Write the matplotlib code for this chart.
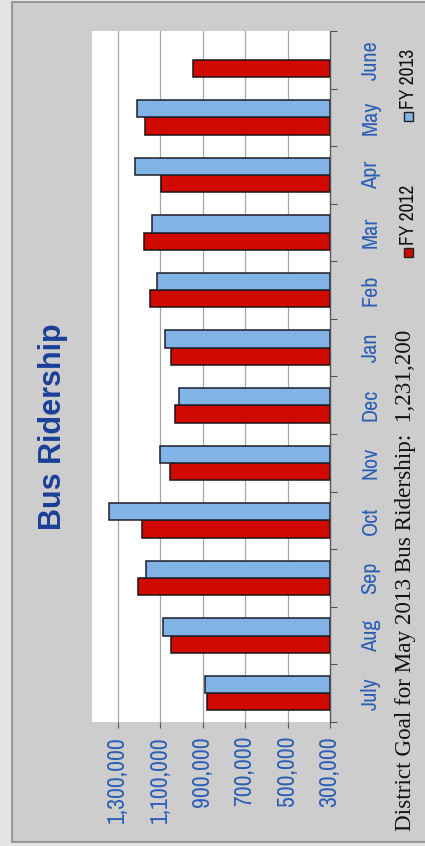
import numpy as np
import matplotlib
matplotlib.use("Agg")
import matplotlib.pyplot as plt
from matplotlib.patches import Rectangle
from matplotlib import font_manager

# data
months = ['July', 'Aug', 'Sep', 'Oct', 'Nov', 'Dec', 'Jan', 'Feb', 'Mar', 'Apr', 'May', 'June']
fy2012 = [880000, 1051000, 1206000, 1188000, 1056000, 1031000,
          1050000, 1149000, 1179000, 1099000, 1173000, 946000]
fy2013 = [891000, 1086000, 1169000, 1342000, 1100000, 1012000,
          1078000, 1115000, 1141000, 1217000, 1210000, None]
value_ticks = [300000, 500000, 700000, 900000, 1100000, 1300000]
goal_text = 'District Goal for May 2013 Bus Ridership:  1,231,200'

W, H = 425, 846
bg = '#cdcdcd'
red = '#d10a00'
blue = '#82b3e6'
label_blue = '#2c5fb4'

# narrow sans if there is one, else plain Liberation Sans
narrow = 'Liberation Sans'
for cand in ['Liberation Sans Narrow', 'Arial Narrow', 'Archivo Narrow', 'Roboto Condensed']:
    try:
        font_manager.findfont(cand, fallback_to_default=False)
        narrow = cand
        break
    except Exception:
        pass


def fx(px):
    return px / W


def fy(py):
    return 1 - py / H


fig = plt.figure(figsize=(W / 100, H / 100), dpi=100)
fig.patch.set_facecolor('#e4e4e4')
fig.add_artist(Rectangle((fx(12), fy(842)), 1.0, fy(2) - fy(842), transform=fig.transFigure,
                         facecolor=bg, edgecolor='#8a8a8a', lw=1.2, zorder=0))

ax = fig.add_axes([fx(92), fy(722), fx(330) - fx(92), fy(31) - fy(722)])
ax.set_facecolor('white')

y = np.arange(len(months))
h = 0.30
base = value_ticks[0]

ax.barh(y - h / 2, [v - base for v in fy2012], left=base, height=h,
        color=red, edgecolor='#1e1414', lw=1.1, zorder=3)
i13 = [i for i, v in enumerate(fy2013) if v is not None]
ax.barh(y[i13] + h / 2, [fy2013[i] - base for i in i13], left=base, height=h,
        color=blue, edgecolor='#1e1e2a', lw=1.1, zorder=3)

ax.set_xlim(1422000, 300000)
ax.set_ylim(-0.5, len(months) - 0.5)

for v in value_ticks[1:]:
    ax.axvline(v, color='#a8a8a8', lw=0.9, zorder=1)

for s in ['left', 'top', 'bottom']:
    ax.spines[s].set_visible(False)
ax.spines['right'].set_color('#555555')
ax.spines['right'].set_linewidth(1.0)

ax.set_xticks(value_ticks)
ax.set_xticklabels([f'{v:,}' for v in value_ticks], rotation=90,
                   color=label_blue, fontsize=17, family=narrow)
ax.tick_params(axis='x', length=4, color='#555555', pad=6)

ax.yaxis.tick_right()
ax.set_yticks(np.arange(-0.5, len(months), 1))
ax.set_yticklabels([])
ax.set_yticks(y, minor=True)
ax.set_yticklabels(months, minor=True, rotation=90, color=label_blue,
                   fontsize=16, family=narrow, va='center')
ax.tick_params(axis='y', which='major', length=5, color='#555555', right=True, left=False)
ax.tick_params(axis='y', which='minor', length=0, pad=22, right=True, left=False)

fig.text(fx(53), fy(427), 'Bus Ridership', rotation=90, ha='center', va='center',
         fontsize=22, fontweight='bold', color='#1b3f98', family='Liberation Sans')

fig.text(fx(406), fy(831), goal_text, rotation=90, ha='center', va='bottom',
         fontsize=16.7, color='#111111', family='Liberation Serif')

# legend drawn by hand, rotated like the rest
for ypix, col, txt in [(253, red, 'FY 2012'), (117, blue, 'FY 2013')]:
    fig.add_artist(Rectangle((fx(404), fy(ypix + 4.5)), fx(9), fy(ypix - 4.5) - fy(ypix + 4.5),
                             transform=fig.transFigure, facecolor=col,
                             edgecolor='#222222', lw=1.0))
    fig.text(fx(409), fy(ypix - 8), txt, rotation=90, ha='center', va='bottom',
             fontsize=14, color='#111111', family=narrow)

fig.savefig('out.png', dpi=100, facecolor=fig.get_facecolor())
